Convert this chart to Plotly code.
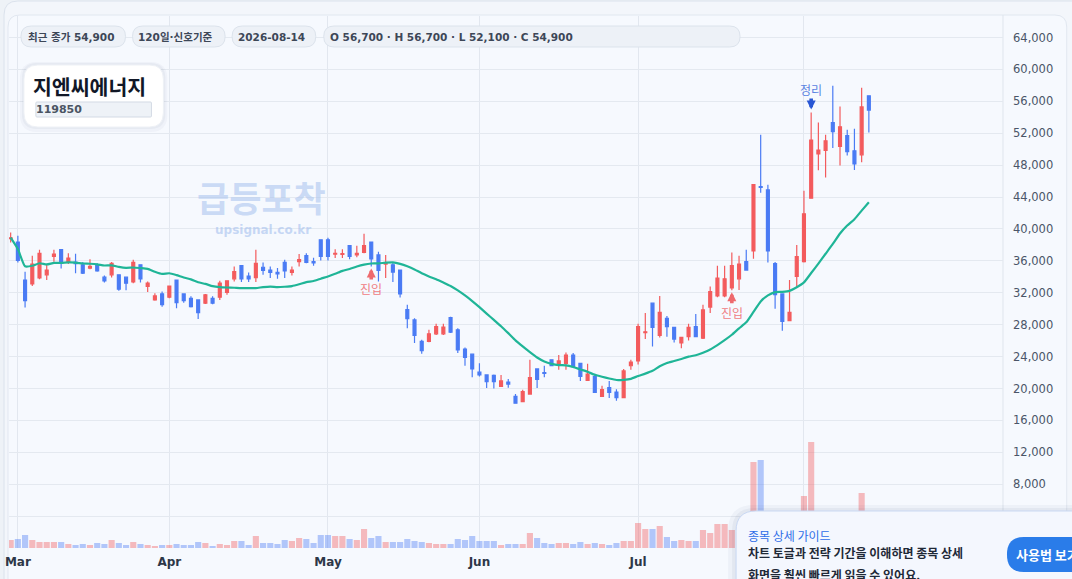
"""Daily candles for 지엔씨에너지 (119850) with 20-day MA, volume and signals."""

import pandas as pd
import plotly.graph_objects as go

NAME = "지엔씨에너지"
CODE = "119850"
HOLIDAYS = ["2026-03-02"]
DATES = [d for d in pd.bdate_range("2026-02-27", "2026-08-14")
         if d.strftime("%Y-%m-%d") not in HOLIDAYS]

OPEN = [38800, 38350, 33600, 33100, 33850, 34250, 36550, 37400, 35800, 35850,
        35500, 35100, 35500, 33950, 34250, 34250, 33950, 33350, 35500, 32800,
        31100, 31850, 31450, 33600, 31850, 31300, 31100, 30700, 31300, 31450,
        32050, 33750, 35400, 34100, 33900, 35200, 34850, 34550, 35800, 34550,
        35900, 36650, 35900, 38650, 38650, 36850, 36800, 37900, 36750, 37050,
        38350, 36750, 35600, 35500, 34850, 29900, 28600, 25900, 25900, 26850,
        26850, 28900, 27350, 24950, 24300, 22050, 21700, 21650, 20250, 20800,
        19000, 18350, 19300, 22450, 22000, 23600, 22950, 23150, 24200, 23150,
        21000, 21500, 19000, 20100, 19550, 18850, 22850, 23450, 27000, 30700,
        26650, 28800, 27650, 25700, 26500, 27750, 26300, 30200, 31600, 31600,
        32600, 33750, 35900, 37250, 45300, 44900, 35650, 31850, 28500, 34050,
        35900, 43850, 49400, 49850, 53350, 50350, 51700, 49800, 49300, 56700]
HIGH = [39550, 39150, 34650, 36650, 37400, 35500, 37400, 37500, 36950, 36900,
        35850, 36200, 35700, 34150, 35850, 34250, 33950, 36150, 35500, 33400,
        31950, 32150, 32850, 33600, 31850, 31550, 31200, 31850, 31550, 33500,
        33550, 35300, 35400, 34550, 37400, 35800, 35300, 35100, 36150, 35300,
        36850, 36950, 36400, 38650, 38900, 37450, 37450, 37900, 37900, 39400,
        38350, 37150, 36750, 35850, 34850, 30500, 28800, 26100, 27350, 28100,
        28100, 29000, 27550, 25150, 24300, 23150, 21700, 21750, 21700, 21200,
        19300, 19850, 23600, 22450, 22850, 23600, 24200, 24500, 24450, 23150,
        23100, 21850, 20350, 20950, 19900, 22450, 23600, 28100, 29450, 30700,
        31600, 29100, 27750, 26500, 28100, 29350, 30500, 32800, 35400, 35400,
        37050, 36650, 37400, 45550, 51800, 45550, 35850, 31850, 33600, 38000,
        44800, 54600, 53350, 51800, 57950, 55350, 52450, 52550, 57700, 56700]
LOW = [38300, 35800, 30150, 32850, 33700, 33600, 35900, 35050, 35600, 34450,
       34350, 34950, 34650, 33300, 33900, 32250, 32300, 33200, 33300, 32100,
       31000, 30250, 31300, 30050, 30750, 30150, 28700, 30600, 30550, 31100,
       31750, 33400, 33350, 33350, 33350, 34250, 33850, 33750, 33850, 34150,
       35300, 35700, 35400, 36050, 36050, 36350, 36350, 36200, 36450, 36950,
       35300, 33400, 33850, 33350, 31400, 27550, 25700, 24350, 25800, 26700,
       26700, 26950, 24450, 22850, 21400, 21500, 20050, 20000, 20250, 20100,
       18150, 18350, 19300, 20050, 21400, 22850, 22350, 22350, 22750, 20950,
       21000, 19500, 19000, 18800, 18450, 18850, 22350, 23000, 26200, 25250,
       26400, 26500, 25750, 25050, 26000, 26500, 26200, 29450, 31450, 31450,
       32300, 32350, 34850, 36250, 44550, 35800, 30000, 27250, 28500, 32600,
       35800, 43800, 47350, 46450, 50150, 47950, 49200, 47400, 48350, 52100]
CLOSE = [38900, 36050, 31000, 35600, 36950, 34850, 36850, 35700, 36350, 35650,
         34450, 35300, 34750, 33500, 35700, 32450, 33200, 35800, 33750, 33200,
         31600, 30500, 32850, 30750, 31000, 30250, 29500, 31750, 30700, 33200,
         33500, 34650, 33750, 33750, 35700, 34800, 34550, 34350, 34750, 34850,
         36150, 35800, 35750, 36550, 36550, 36950, 36900, 36550, 36950, 37900,
         36250, 34800, 35650, 34600, 31850, 28750, 26650, 24750, 26850, 27750,
         27700, 27050, 24850, 23900, 22450, 21700, 20850, 20850, 20950, 20550,
         18150, 19600, 21350, 21150, 21900, 22850, 23450, 24200, 22750, 21500,
         21800, 19500, 19850, 19500, 18850, 22200, 23300, 27750, 27100, 27650,
         29550, 27750, 26200, 26400, 27650, 26500, 29850, 32150, 33850, 33750,
         35400, 35600, 34850, 45550, 45200, 37250, 31750, 28400, 29550, 36550,
         41900, 51150, 49900, 51050, 52200, 52800, 49700, 48150, 55300, 54900]
# 거래량 (천주)
VOLUME = [400, 450, 650, 400, 300, 300, 300, 300, 200, 150,
          200, 150, 250, 200, 400, 250, 150, 300, 200, 150,
          100, 150, 150, 200, 150, 150, 300, 250, 100, 200,
          150, 350, 350, 150, 600, 250, 250, 200, 400, 350,
          500, 450, 250, 650, 650, 600, 600, 450, 400, 950,
          500, 600, 300, 300, 300, 450, 350, 300, 250, 200,
          200, 200, 450, 400, 600, 350, 350, 350, 150, 200,
          200, 200, 750, 500, 250, 200, 250, 250, 200, 300,
          200, 250, 200, 150, 250, 350, 350, 1250, 950, 950,
          1100, 550, 350, 400, 350, 350, 900, 750, 1200, 1200,
          900, 800, 700, 4300, 4400, 1500, 1200, 1000, 700, 1400,
          2600, 5300, 1300, 900, 1100, 1000, 700, 750, 2750, 1250]

SIGNALS = [("2026-05-11", "진입"), ("2026-07-20", "진입"), ("2026-08-04", "정리")]
MONTH_TICKS = ["2026-03-03", "2026-04-01", "2026-05-01", "2026-06-01", "2026-07-01", "2026-08-03"]
# Aug label sits under the guide popup, so it is left blank
MONTH_LABELS = ["Mar", "Apr", "May", "Jun", "Jul", ""]
PRICE_TICKS = list(range(0, 64001, 4000))

UP, DOWN = "#f35b5d", "#4a7bf4"
UP_VOL, DOWN_VOL = "rgba(243,91,93,0.40)", "rgba(74,123,244,0.40)"
MA_COLOR = "#1fb597"

W, H = 1072, 579
ML, MR, MT, MB = 5, 69, 16, 31
PW, PH = W - ML - MR, H - MT - MB


def px(x, y):
    """pixel position on the page -> paper coords"""
    return (x - ML) / PW, (H - MB - y) / PH


def rounded(x0, y0, x1, y1, r):
    pts = [("M", x0 + r, y0), ("L", x1 - r, y0), ("Q", x1, y0, x1, y0 + r),
           ("L", x1, y1 - r), ("Q", x1, y1, x1 - r, y1), ("L", x0 + r, y1),
           ("Q", x0, y1, x0, y1 - r), ("L", x0, y0 + r), ("Q", x0, y0, x0 + r, y0)]
    out = []
    for p in pts:
        coords = []
        for i in range(1, len(p), 2):
            a, b = px(p[i], p[i + 1])
            coords.append(f"{a:.5f},{b:.5f}")
        out.append(p[0] + " " + " ".join(coords))
    return " ".join(out) + " Z"


def box(x0, y0, x1, y1, r, fill, line="rgba(0,0,0,0)", layer="above", lw=1):
    return dict(type="path", xref="paper", yref="paper", path=rounded(x0, y0, x1, y1, r),
                fillcolor=fill, line=dict(color=line, width=lw), layer=layer)


def label(x, y, text, size, color, anchor="center", weight="normal", family=None):
    a, b = px(x, y)
    f = dict(size=size, color=color, weight=weight)
    if family:
        f["family"] = family
    return dict(xref="paper", yref="paper", x=a, y=b, text=text, showarrow=False,
                xanchor=anchor, yanchor="middle", font=f, borderpad=0)


ma20 = pd.Series(CLOSE).rolling(20, min_periods=1).mean()
vol_colors = [UP_VOL if c >= o else DOWN_VOL for o, c in zip(OPEN, CLOSE)]

fig = go.Figure()
fig.add_trace(go.Bar(x=DATES, y=VOLUME, marker=dict(color=vol_colors, line=dict(width=0)),
                     yaxis="y2", hoverinfo="skip"))
fig.add_trace(go.Candlestick(
    x=DATES, open=OPEN, high=HIGH, low=LOW, close=CLOSE, whiskerwidth=0,
    increasing=dict(line=dict(color=UP, width=1.2), fillcolor=UP),
    decreasing=dict(line=dict(color=DOWN, width=1.2), fillcolor=DOWN),
))
fig.add_trace(go.Scatter(x=DATES, y=ma20, mode="lines",
                         line=dict(color=MA_COLOR, width=2.2, shape="spline", smoothing=0.5),
                         hoverinfo="skip"))

# shapes: card, pills, title card, guide popup
shapes = [
    box(0, 1, 1110, 700, 14, "#f3f6fb", "#dbe2ec", layer="below"),
    box(4, 15, 1067, 700, 12, "#f6f9fe", "#e1e7f0", layer="below"),
    dict(type="line", xref="paper", yref="paper", x0=1.0, x1=1.0, y0=px(0, 15)[1], y1=px(0, 579)[1],
         line=dict(color="#dfe5ed", width=1), layer="below"),
]
pills = [(17, 122), (129, 222), (229, 313), (321, 739)]
for x0, x1 in pills:
    shapes.append(box(x0, 26, x1, 47, 10.5, "#edf1f7", "#dce3ec"))
shapes += [
    box(16, 62, 164, 132, 17, "rgba(30,45,80,0.03)"),
    box(18, 63, 162, 129, 15, "rgba(30,45,80,0.04)"),
    box(20, 65, 160, 127, 14, "#ffffff", "#eef1f6"),
    box(32, 102, 148, 117, 1, "#eef2f7", "#d3dae4"),
    box(727, 505, 1100, 700, 26, "rgba(30,50,90,0.04)"),
    box(731, 508, 1100, 700, 23, "rgba(30,50,90,0.05)"),
    box(735, 511, 1100, 700, 20, "#f4f7fe", "#c9d8f3"),
    box(1007, 537, 1150, 572, 17, "#2a7ce9"),
]

ann = [
    label(23, 37, f"최근 종가 {CLOSE[-1]:,}", 10.5, "#3d4757", "left", "bold"),
    label(134, 37, "120일·신호기준", 10.5, "#3d4757", "left", "bold"),
    label(234, 37, DATES[-1].strftime("%Y-%m-%d"), 10.5, "#3d4757", "left", "bold"),
    label(326, 37, f"O {OPEN[-1]:,} · H {HIGH[-1]:,} · L {LOW[-1]:,} · C {CLOSE[-1]:,}",
          10.5, "#3d4757", "left", "bold"),
    label(28, 86, NAME, 20.5, "#111827", "left", "bold", "Noto Sans CJK KR"),
    label(31, 110, CODE, 11, "#4b5563", "left", "bold"),
    label(259, 196, "급등포착", 35, "rgba(165,192,238,0.55)", "center", "bold", "Noto Sans CJK KR"),
    label(260, 230, "upsignal.co.kr", 12, "rgba(165,192,238,0.6)", "center", "bold"),
    label(746, 535, "종목 상세 가이드", 12, "#2f6ee8", "left", "normal", "Noto Sans CJK KR"),
    label(746, 552, "차트 토글과 전략 기간을 이해하면 종목 상세", 12, "#1f2937", "left", "bold", "Noto Sans CJK KR"),
    label(746, 574, "화면을 훨씬 빠르게 읽을 수 있어요.", 12, "#1f2937", "left", "bold", "Noto Sans CJK KR"),
    label(1015, 554, "사용법 보기", 13, "#ffffff", "left", "bold", "Noto Sans CJK KR"),
]

# trade signal markers
for day, text in SIGNALS:
    i = [d.strftime("%Y-%m-%d") for d in DATES].index(day)
    if text == "진입":
        ann.append(dict(x=DATES[i], y=LOW[i], xref="x", yref="y", text=text, showarrow=True,
                        ax=0, ay=22, standoff=2, arrowhead=2, arrowsize=0.5, arrowwidth=3.6,
                        arrowcolor="#ee6a6e", borderpad=0,
                        font=dict(size=12, color="#ef8083", family="Noto Sans CJK KR")))
    else:
        ann.append(dict(x=DATES[i], y=HIGH[i], xref="x", yref="y", text=text, showarrow=True,
                        ax=0, ay=-23, standoff=3, arrowhead=2, arrowsize=0.5, arrowwidth=3.6,
                        arrowcolor="#2856d4", borderpad=0,
                        font=dict(size=12, color="#5b84e2", family="Noto Sans CJK KR")))

fig.update_layout(
    width=W, height=H, margin=dict(l=ML, r=MR, t=MT, b=MB),
    paper_bgcolor="#eef2f7", plot_bgcolor="#f6f9fe",
    showlegend=False, boxgap=0.42, bargap=0.15,
    font=dict(family="DejaVu Sans, Noto Sans CJK KR", color="#3f4a5a"),
    xaxis=dict(
        type="date", range=["2026-02-26 18:30", "2026-09-09 14:24"],
        rangebreaks=[dict(bounds=["sat", "mon"]), dict(values=HOLIDAYS)],
        tickmode="array", tickvals=MONTH_TICKS, ticktext=MONTH_LABELS,
        showgrid=True, gridcolor="#e2e7ef", zeroline=False,
        rangeslider=dict(visible=False), ticks="", ticklabelstandoff=5,
        tickfont=dict(size=12, color="#2d3748", weight="bold"),
    ),
    yaxis=dict(
        side="right", range=[0, 66700], tickmode="array", tickvals=PRICE_TICKS,
        # the two lowest labels are covered by the popup card
        ticktext=[f"{v:,}" if v >= 8000 else "" for v in PRICE_TICKS],
        showgrid=True, gridcolor="#e4e9f0", zeroline=False, ticks="",
        ticklabelstandoff=9, tickfont=dict(size=11.5, color="#4a5568"),
    ),
    yaxis2=dict(overlaying="y", range=[0, 26600], visible=False),
    shapes=shapes,
    annotations=ann,
)

fig.write_html("out.html", config={"displayModeBar": False},
               post_script="document.body.style.margin='0';")
